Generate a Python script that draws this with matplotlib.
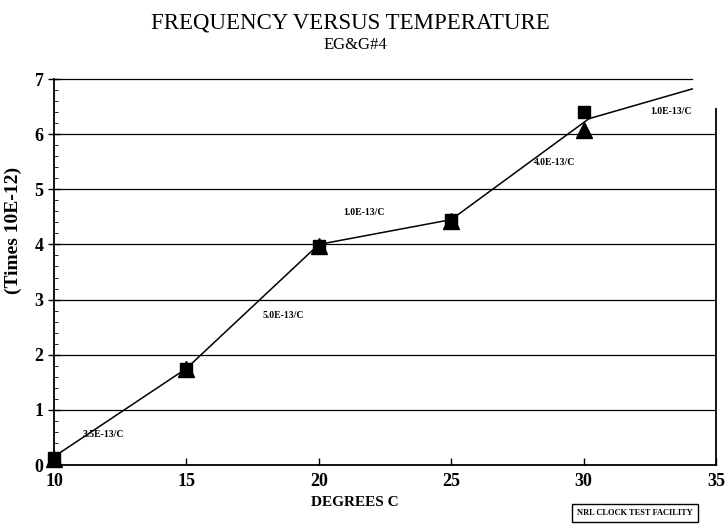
import matplotlib
matplotlib.use("Agg")
from matplotlib import pyplot as plt

# data
temps = [10, 15, 20, 25, 30]
freq_square = [0.12, 1.75, 3.98, 4.45, 6.40]
freq_triangle = [0.10, 1.75, 3.97, 4.43, 6.08]

fit_x = [10, 15, 20, 25, 30.2, 34.1]
fit_y = [0.15, 1.75, 4.00, 4.45, 6.28, 6.82]

slope_labels = ["3.5E-13/C", "5.0E-13/C", "1.0E-13/C", "4.0E-13/C", "1.0E-13/C"]
slope_x = [11.85, 18.65, 21.7, 28.9, 33.3]
slope_y = [0.55, 2.72, 4.57, 5.48, 6.41]

x_ticks = [10, 15, 20, 25, 30, 35]
y_ticks = [0, 1, 2, 3, 4, 5, 6, 7]

serif = ["Liberation Serif", "DejaVu Serif"]

fig = plt.figure(figsize=(7.25, 5.29), dpi=100)
ax = fig.add_axes([54 / 725, (529 - 465) / 529, (716 - 54) / 725, (465 - 79) / 529])

ax.set_xlim(10, 35)
ax.set_ylim(0, 7)

# horizontal grid
for y in y_ticks[1:-1]:
    ax.axhline(y, color="black", lw=0.9, zorder=1)
ax.plot([10, 34.1], [7, 7], color="black", lw=0.9, clip_on=False, zorder=1)

ax.plot(fit_x, fit_y, color="black", lw=1.1, zorder=2)
ax.plot(temps, freq_square, ls="none", marker="s", ms=8, color="black", zorder=3, clip_on=False)
ax.plot(temps, freq_triangle, ls="none", marker="^", ms=11, color="black", zorder=3, clip_on=False)

for lab, xx, yy in zip(slope_labels, slope_x, slope_y):
    ax.text(xx, yy, lab, fontsize=7, fontweight="bold", family=serif,
            ha="center", va="center")

ax.spines["top"].set_visible(False)
ax.spines["right"].set_bounds(0, 6.45)
ax.spines["left"].set_linewidth(1.3)
ax.spines["bottom"].set_linewidth(1.3)
ax.spines["right"].set_linewidth(1.3)

ax.set_xticks(x_ticks)
ax.set_yticks(y_ticks)
ax.set_yticks([i / 5 for i in range(36)], minor=True)
ax.tick_params(axis="y", which="major", direction="inout", length=8, width=1)
ax.tick_params(axis="y", which="minor", direction="in", length=3, width=0.6)
ax.tick_params(axis="x", which="major", direction="in", length=5, width=1, pad=6)
for lab in ax.get_xticklabels() + ax.get_yticklabels():
    lab.set_family(serif)
    lab.set_fontsize(13)
    lab.set_fontweight("bold")

fig.text(0.483, 0.957, "FREQUENCY VERSUS TEMPERATURE", ha="center", va="center",
         family=serif, fontsize=16.5)
fig.text(0.49, 0.915, "EG&G#4", ha="center", va="center", family=serif, fontsize=12)
fig.text(0.49, 0.05, "DEGREES C", ha="center", va="center", family=serif,
         fontsize=11, fontweight="bold")
fig.text(13 / 725, 0.565, "(Times 10E-12)", ha="center", va="center", rotation=90,
         family=serif, fontsize=14, fontweight="bold")
fig.text(0.876, 0.03, "NRL CLOCK TEST FACILITY", ha="center", va="center",
         family=serif, fontsize=6, fontweight="bold",
         bbox=dict(boxstyle="square,pad=0.6", fc="white", ec="black", lw=1))

fig.savefig("out.png", dpi=100)
